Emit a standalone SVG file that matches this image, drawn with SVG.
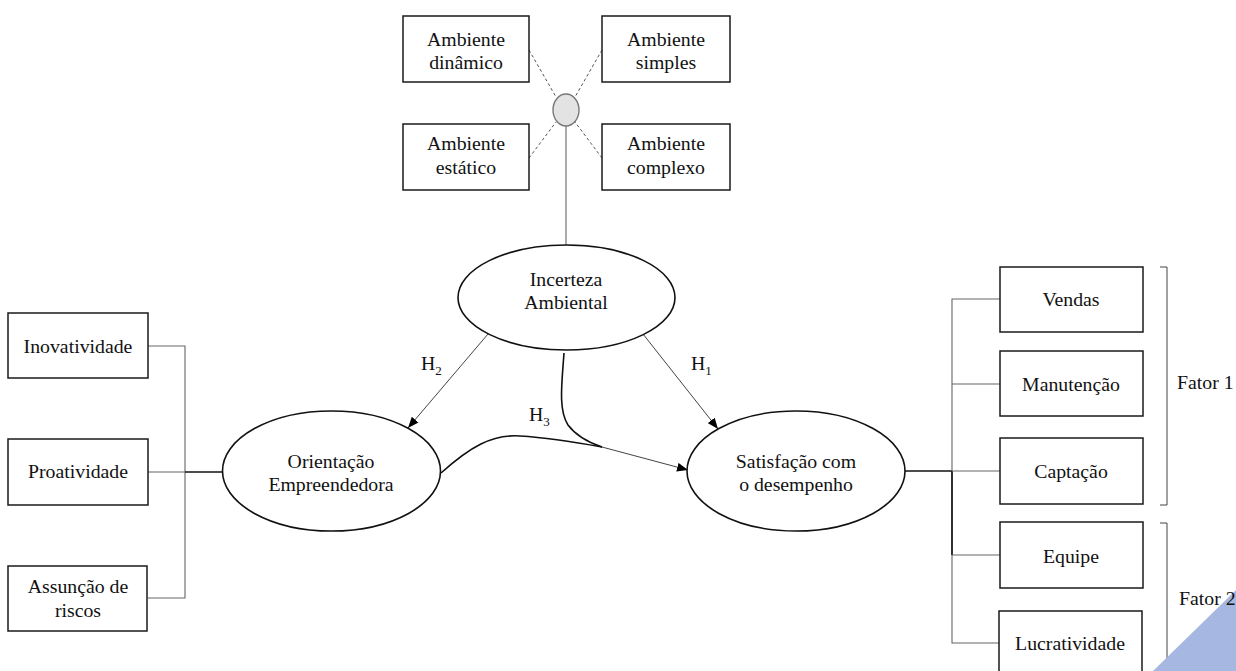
<svg xmlns="http://www.w3.org/2000/svg" width="1236" height="671" viewBox="0 0 1236 671">
<defs>
<style>
.box{fill:#fff;stroke:#1a1a1a;stroke-width:1.5}
.ell{fill:#fff;stroke:#111;stroke-width:1.6}
.t{font-family:"Liberation Serif","Times New Roman","DejaVu Serif",serif;font-size:19.8px;fill:#111;text-anchor:middle}
.tl{font-family:"Liberation Serif","Times New Roman","DejaVu Serif",serif;font-size:19.8px;fill:#111}
.sub{font-size:13px}
.ln{fill:none;stroke:#666;stroke-width:1.1}
.dk{fill:none;stroke:#111;stroke-width:1.6}
.ds{fill:none;stroke:#555;stroke-width:1;stroke-dasharray:3 2.5}
.ar{fill:none;stroke:#444;stroke-width:1}
</style>
<marker id="ah" viewBox="0 0 10 8" refX="10" refY="4" markerWidth="11" markerHeight="9" markerUnits="userSpaceOnUse" orient="auto">
<path d="M0,0 L10,4 L0,8 Z" fill="#000"/>
</marker>
</defs>
<rect width="1236" height="671" fill="#fff"/>

<g id="connectors">
<line class="ds" x1="529" y1="50" x2="556" y2="97"/>
<line class="ds" x1="602" y1="50" x2="575" y2="97"/>
<line class="ds" x1="529" y1="158" x2="556" y2="122"/>
<line class="ds" x1="602" y1="158" x2="575" y2="122"/>
<line class="ln" x1="566" y1="126" x2="566" y2="245"/>
<polyline class="ln" points="148,346 185,346 185,598 148,598"/>
<line class="ln" x1="148" y1="472" x2="185" y2="472"/>
<line class="dk" x1="185" y1="472" x2="223" y2="472"/>
<line class="dk" x1="905" y1="471" x2="952" y2="471"/>
<polyline class="ln" points="1000,299 952,299 952,643 999,643"/>
<line class="dk" x1="952" y1="471" x2="952" y2="555"/>
<line class="ln" x1="952" y1="384" x2="1000" y2="384"/>
<line class="ln" x1="952" y1="471" x2="1000" y2="471"/>
<line class="ln" x1="952" y1="555" x2="1000" y2="555"/>
<line class="ar" x1="488" y1="334" x2="408" y2="428" marker-end="url(#ah)"/>
<line class="ar" x1="643" y1="334" x2="718" y2="429" marker-end="url(#ah)"/>
<path class="dk" d="M441,473 C470,447 492,434 520,436 C552,438 580,443 602,447"/>
<path class="dk" d="M564,353 C562,382 558,410 568,425 C577,437 590,443 602,447"/>
<line class="ar" x1="602" y1="447" x2="688" y2="470" marker-end="url(#ah)"/>
<polyline class="ar" points="1160,267 1167,267 1167,505 1160,505"/>
<polyline class="ar" points="1160,523 1167,523 1167,680"/>
</g>

<g id="labels">
<text class="tl" x="421" y="370">H<tspan class="sub" dy="5">2</tspan></text>
<text class="tl" x="691" y="370">H<tspan class="sub" dy="5">1</tspan></text>
<text class="tl" x="529" y="421">H<tspan class="sub" dy="5">3</tspan></text>
<text class="tl" x="1177" y="389">Fator 1</text>
</g>

<polygon points="1153,671 1236,590 1236,671" fill="#a6b8e2"/>
<text class="tl" x="1179" y="605">Fator 2</text>

<g id="n-dinamico"><rect class="box" x="403" y="16" width="126" height="66"/><text class="t" x="466" y="46">Ambiente</text><text class="t" x="466" y="69">dinâmico</text></g>
<g id="n-simples"><rect class="box" x="602" y="16" width="128" height="66"/><text class="t" x="666" y="46">Ambiente</text><text class="t" x="666" y="69">simples</text></g>
<g id="n-estatico"><rect class="box" x="403" y="124" width="126" height="66"/><text class="t" x="466" y="150">Ambiente</text><text class="t" x="466" y="174">estático</text></g>
<g id="n-complexo"><rect class="box" x="602" y="124" width="128" height="66"/><text class="t" x="666" y="150">Ambiente</text><text class="t" x="666" y="174">complexo</text></g>
<g id="n-hub"><ellipse cx="566" cy="110" rx="13" ry="16" fill="#e3e3e3" stroke="#777" stroke-width="1.4"/></g>

<g id="n-incerteza"><ellipse class="ell" cx="566.5" cy="297.5" rx="108.5" ry="52.5"/><text class="t" x="566" y="286">Incerteza</text><text class="t" x="566" y="309">Ambiental</text></g>
<g id="n-orientacao"><ellipse class="ell" cx="331.5" cy="471" rx="109" ry="60"/><text class="t" x="331" y="468">Orientação</text><text class="t" x="331" y="491">Empreendedora</text></g>
<g id="n-satisfacao"><ellipse class="ell" cx="796" cy="471" rx="109" ry="60"/><text class="t" x="796" y="468">Satisfação com</text><text class="t" x="796" y="491">o desempenho</text></g>

<g id="n-inovatividade"><rect class="box" x="8" y="313" width="140" height="65"/><text class="t" x="78" y="352.5">Inovatividade</text></g>
<g id="n-proatividade"><rect class="box" x="8" y="439" width="140" height="66"/><text class="t" x="78" y="478">Proatividade</text></g>
<g id="n-assuncao"><rect class="box" x="8" y="566" width="139" height="65"/><text class="t" x="78" y="593">Assunção de</text><text class="t" x="78" y="617">riscos</text></g>

<g id="n-vendas"><rect class="box" x="1000" y="267" width="143" height="65"/><text class="t" x="1071" y="306">Vendas</text></g>
<g id="n-manutencao"><rect class="box" x="1000" y="351" width="143" height="65"/><text class="t" x="1071" y="391">Manutenção</text></g>
<g id="n-captacao"><rect class="box" x="1000" y="438" width="143" height="66"/><text class="t" x="1071" y="478">Captação</text></g>
<g id="n-equipe"><rect class="box" x="1000" y="522" width="143" height="66"/><text class="t" x="1071" y="563">Equipe</text></g>
<g id="n-lucratividade"><rect class="box" x="999" y="611" width="143" height="70"/><text class="t" x="1070" y="650">Lucratividade</text></g>
</svg>
